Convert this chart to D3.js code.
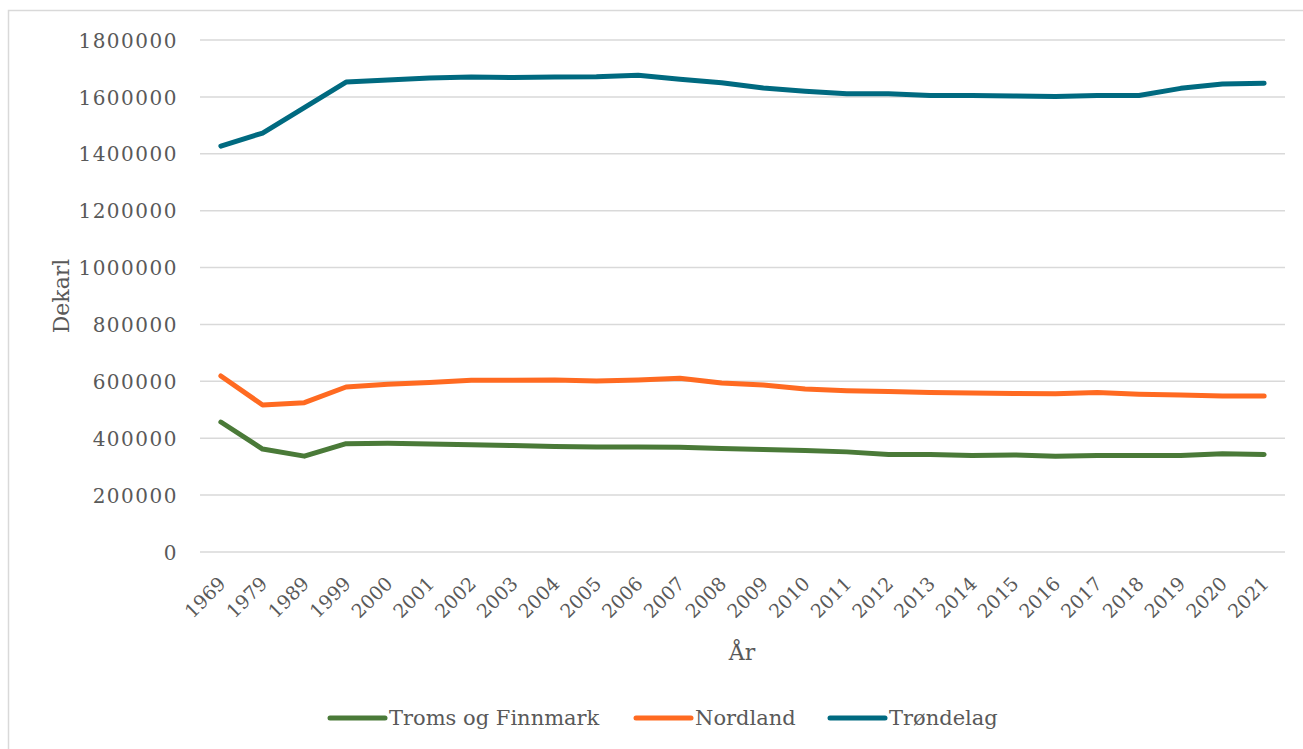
<!DOCTYPE html>
<html>
<head>
<meta charset="utf-8">
<script src="https://cdn.jsdelivr.net/npm/d3@7/dist/d3.min.js"></script>
<style>
  html, body { margin: 0; padding: 0; background: #fff; }
  svg { display: block; }
  text { font-family: "DejaVu Serif", "Liberation Serif", serif; fill: #595959; }
</style>
</head>
<body>
<svg id="chart" width="1303" height="749"></svg>
<script>
const years = ["1969","1979","1989","1999","2000","2001","2002","2003","2004","2005","2006","2007","2008","2009","2010","2011","2012","2013","2014","2015","2016","2017","2018","2019","2020","2021"];
const tromsFinnmark = [457000,362000,337000,381000,382000,380000,377000,374000,371000,369000,369000,368000,364000,360000,357000,352000,343000,343000,339000,341000,337000,339000,339000,339000,345000,343000];
const nordland = [619000,517000,525000,580000,590000,596000,604000,604000,605000,601000,605000,611000,594000,587000,573000,567000,564000,561000,559000,557000,556000,561000,555000,552000,548000,548000];
const trondelag = [1427000,1473000,1562000,1652000,1659000,1666000,1670000,1668000,1670000,1671000,1676000,1662000,1650000,1631000,1620000,1611000,1611000,1605000,1605000,1603000,1601000,1605000,1605000,1630000,1645000,1648000];
const yTicks = [0,200000,400000,600000,800000,1000000,1200000,1400000,1600000,1800000];
const seriesNames = ["Troms og Finnmark","Nordland","Trøndelag"];
const seriesColors = ["#4a7a38","#ff6a21","#006a80"];

(function () {
const series = [tromsFinnmark, nordland, trondelag].map((vals, i) => ({
  name: seriesNames[i], color: seriesColors[i], values: vals
}));

const svg = d3.select("#chart");

svg.append("rect").attr("x", 8.5).attr("y", 10.5).attr("width", 1400).attr("height", 800)
  .attr("fill", "none").attr("stroke", "#d9d9d9").attr("stroke-width", 1.5);

const mLeft = 200, mRight = 1285, mTop = 40, mBottom = 552;
const x = d3.scaleBand().domain(years).range([mLeft, mRight]);
const y = d3.scaleLinear().domain([0, 1800000]).range([mBottom, mTop]);

svg.append("g").selectAll("line").data(yTicks).join("line")
  .attr("x1", mLeft).attr("x2", mRight)
  .attr("y1", d => y(d)).attr("y2", d => y(d))
  .attr("stroke", "#d9d9d9").attr("stroke-width", 1.5);

const yAxis = d3.axisLeft(y).tickValues(yTicks).tickSize(0).tickPadding(0).tickFormat(d => String(d));
const gy = svg.append("g").attr("transform", `translate(${mLeft - 22},0)`).call(yAxis);
gy.select(".domain").remove();
gy.selectAll("text").attr("font-size", 20).attr("fill", "#595959")
  .attr("font-family", "DejaVu Serif, serif").attr("dy", "0.36em").attr("letter-spacing", 1.5);

const xAxis = d3.axisBottom(x).tickSize(0).tickPadding(0);
const gx = svg.append("g").attr("transform", `translate(0,${mBottom})`).call(xAxis);
gx.select(".domain").remove();
gx.selectAll(".tick text")
  .attr("font-size", 19).attr("fill", "#595959").attr("font-family", "DejaVu Serif, serif")
  .attr("text-anchor", "end").attr("dy", 0).attr("y", 0)
  .attr("transform", "translate(6,33) rotate(-45)");

const line = d3.line().x((d, i) => x(years[i]) + x.bandwidth() / 2).y(d => y(d));
svg.append("g").selectAll("path").data(series).join("path")
  .attr("d", d => line(d.values))
  .attr("fill", "none").attr("stroke", d => d.color).attr("stroke-width", 5)
  .attr("stroke-linejoin", "round").attr("stroke-linecap", "round");

svg.append("text").attr("transform", "translate(69,296) rotate(-90)")
  .attr("text-anchor", "middle").attr("font-size", 22).text("Dekarl");
svg.append("text").attr("x", 742).attr("y", 660)
  .attr("text-anchor", "middle").attr("font-size", 22).text("År");

const legendX = [330, 636, 830];
const lg = svg.append("g").selectAll("g").data(series).join("g")
  .attr("transform", (d, i) => `translate(${legendX[i]},718)`);
lg.append("line").attr("x1", 0).attr("x2", 55).attr("y1", 0).attr("y2", 0)
  .attr("stroke", d => d.color).attr("stroke-width", 5).attr("stroke-linecap", "round");
lg.append("text").attr("x", 59).attr("y", 0).attr("dy", "0.35em")
  .attr("font-size", 21).text(d => d.name);
})();
</script>
</body>
</html>
